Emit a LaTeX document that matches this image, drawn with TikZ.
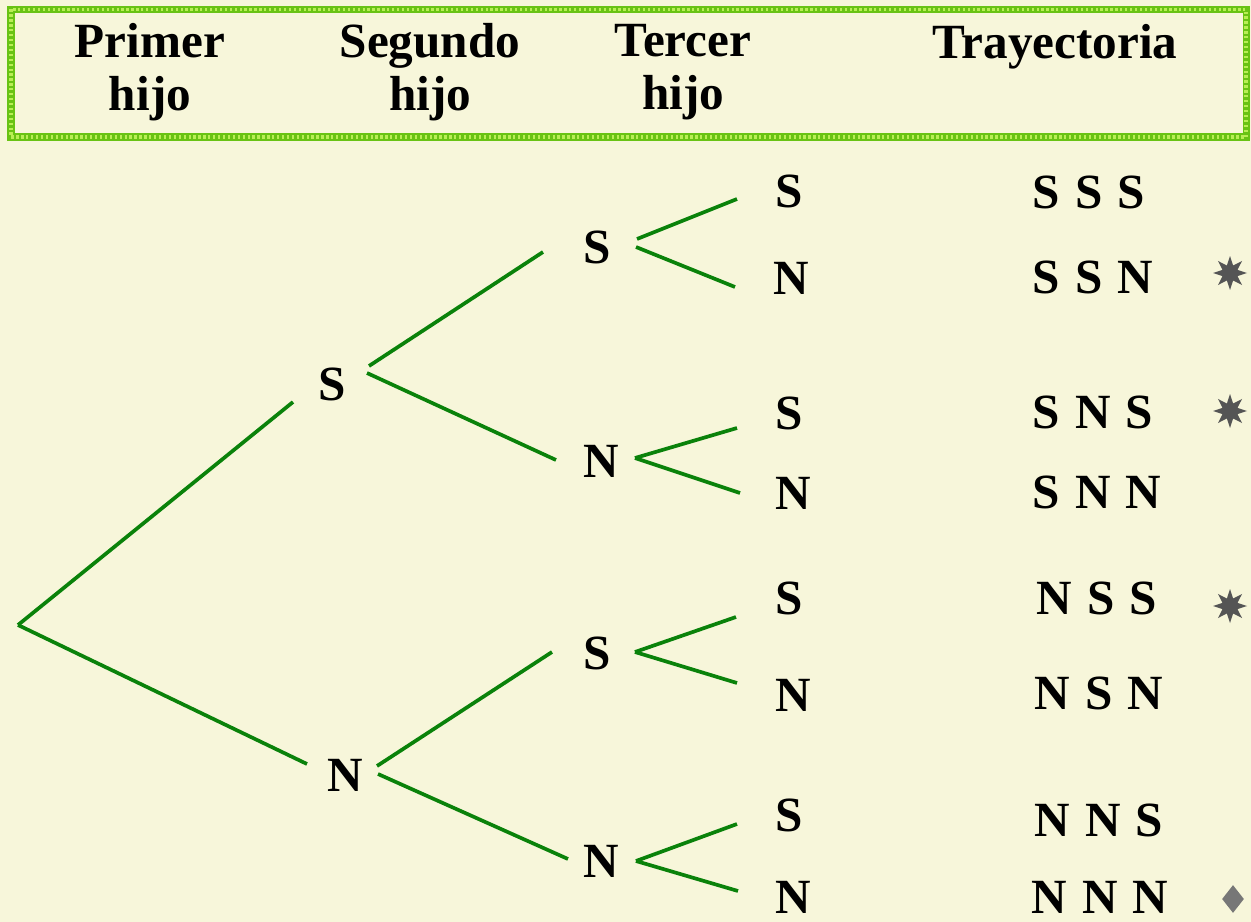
\documentclass[tikz,border=0pt]{standalone}
\usepackage{fontspec}
\setmainfont{Liberation Serif}
\usepackage{xcolor}
\usetikzlibrary{shapes.geometric,calc}
\definecolor{paper}{RGB}{247,246,218}
\definecolor{branch}{RGB}{10,130,10}
\definecolor{frame}{RGB}{105,195,20}
\definecolor{framelight}{RGB}{185,238,85}
\definecolor{mark}{RGB}{85,85,85}
\newcommand{\widegap}{\spaceskip=8.6pt plus 1pt\relax}
\tikzset{
  lbl/.style={font=\fontsize{28}{30}\bfseries\selectfont, inner sep=0pt},
  head/.style={font=\fontsize{28}{30}\bfseries\selectfont, align=center},
  path/.style={font=\fontsize{28}{30}\bfseries\selectfont\widegap, inner sep=0pt},
  arm/.style={branch, line width=2.1pt},
  starmark/.style={star, star points=8, star point ratio=2.1, fill=mark, minimum size=0.68cm, inner sep=0pt},
  diamark/.style={diamond, fill=mark!80, minimum width=0.44cm, minimum height=0.56cm, inner sep=0pt}
}
\begin{document}
\begin{tikzpicture}[x=0.02cm, y=-0.02cm]
    \fill[paper] (0,0) rectangle (1251,922);
    \useasboundingbox (0,0) rectangle (1251,922);

    % header
    \draw[frame, line width=4pt] (11,9.5) rectangle (1246,137);
    \draw[framelight, line width=2.2pt, dash pattern=on 1.3pt off 1.5pt] (11,9.5) rectangle (1246,137);
    \node[head] (h1) at (150,72) {Primer\\hijo};
    \node[head] (h2) at (430,72) {Segundo\\hijo};
    \node[head] (h3) at (683,72) {Tercer\\hijo};
    \node[head] (h4) at (1055,47) {Trayectoria};

    % tree
    \coordinate (root) at (18,625);
    \node[lbl] (s) at (332,384) {S};
    \node[lbl] (n) at (345,775) {N};
    \node[lbl] (ss) at (597,247) {S};
    \node[lbl] (sn) at (601,461) {N};
    \node[lbl] (ns) at (597,653) {S};
    \node[lbl] (nn) at (601,861) {N};
    \node[lbl] (sss) at (789,191) {S};
    \node[lbl] (ssn) at (791,278) {N};
    \node[lbl] (sns) at (789,413) {S};
    \node[lbl] (snn) at (793,493) {N};
    \node[lbl] (nss) at (789,598) {S};
    \node[lbl] (nsn) at (793,695) {N};
    \node[lbl] (nns) at (789,815) {S};
    \node[lbl] (nnn) at (793,897) {N};

    % branches: parent/child/start offset/end offset
    \foreach \a/\b/\sx/\sy/\ex/\ey in {
        root/s/0/0/-39/18, root/n/0/0/-38/-11,
        s/ss/37/-18/-54/5, s/sn/35/-11/-45/-1,
        n/ns/32/-9/-45/-1, n/nn/33/-1/-33/-2,
        ss/sss/40/-8/-52/8, ss/ssn/39/0/-56/9,
        sn/sns/34/-3/-52/15, sn/snn/34/-3/-53/0,
        ns/nss/38/-1/-53/19, ns/nsn/38/-1/-56/-12,
        nn/nns/35/0/-52/9, nn/nnn/35/0/-55/-6}
        \draw[arm] ($(\a)+(\sx,\sy)$) -- ($(\b)+(\ex,\ey)$);

    % paths
    \node[path] (t1) at (1089,192) {S S S};
    \node[path] (t2) at (1093,277) {S S N};
    \node[path] (t3) at (1093,412) {S N S};
    \node[path] (t4) at (1097,492) {S N N};
    \node[path] (t5) at (1097,598) {N S S};
    \node[path] (t6) at (1099,693) {N S N};
    \node[path] (t7) at (1099,820) {N N S};
    \node[path] (t8) at (1100,897) {N N N};

    \node[starmark] (m1) at (1230,273) {};
    \node[starmark] (m2) at (1230,411) {};
    \node[starmark] (m3) at (1230,606) {};
    \node[diamark] (m4) at (1233,899) {};
\end{tikzpicture}
\end{document}
